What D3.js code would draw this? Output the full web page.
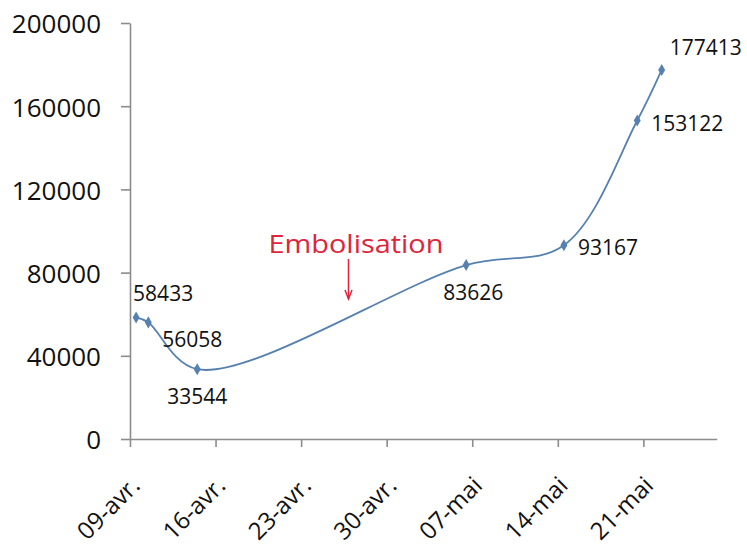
<!DOCTYPE html>
<html>
<head>
<meta charset="utf-8">
<script src="https://cdn.jsdelivr.net/npm/d3@7"></script>
<style>
  body { margin: 0; background: #fff; }
  svg { display: block; }
</style>
</head>
<body>
<svg id="chart" width="747" height="550"></svg>
<script>
// Measurement dates and values
const dates = ["2013-04-09", "2013-04-10", "2013-04-14", "2013-05-06", "2013-05-14", "2013-05-20", "2013-05-22"];
const values = [58433, 56058, 33544, 83626, 93167, 153122, 177413];

// Axis ticks
const tickDates = ["2013-04-09", "2013-04-16", "2013-04-23", "2013-04-30", "2013-05-07", "2013-05-14", "2013-05-21"];
const tickLabels = ["09-avr.", "16-avr.", "23-avr.", "30-avr.", "07-mai", "14-mai", "21-mai"];
const yTicks = [0, 40000, 80000, 120000, 160000, 200000];

// Annotation
const annotationText = "Embolisation";
const annotationDate = "2013-04-26T21:00";

// Layout
const xStart = "2013-04-09", xEnd = "2013-05-27";
const plot = { left: 130, right: 716.7, top: 23, bottom: 439 };
const labelOffsets = [[-3, -16], [14, 24.6], [-30, 35], [-23, 35], [14, 10], [14, 10.5], [8, -15]];
const FONT = "'Open Sans', 'Noto Sans', sans-serif";
const AXIS_COLOR = "#8c8c8c";
const LINE_COLOR = "#5580b0";
const TEXT_COLOR = "#111";
const RED = "#e0243a";

const parse = d3.utcParse("%Y-%m-%d");
const parseT = d3.utcParse("%Y-%m-%dT%H:%M");

const svg = d3.select("#chart");

const x = d3.scaleUtc()
  .domain([parse(xStart), parse(xEnd)])
  .range([plot.left, plot.right]);

const y = d3.scaleLinear()
  .domain([0, 200000])
  .range([plot.bottom, plot.top]);

// Each day occupies a slot; points sit in the middle of their day
const px = d => x(d3.utcHour.offset(parse(d), 12));

const data = dates.map((d, i) => ({ date: d, value: values[i], off: labelOffsets[i] }));

// Y axis
const yAxis = svg.append("g")
  .attr("transform", `translate(${plot.left},0)`)
  .call(d3.axisLeft(y).tickValues(yTicks).tickFormat(d3.format("d"))
    .tickSize(9).tickSizeOuter(0).tickPadding(20));
yAxis.select(".domain").attr("stroke", AXIS_COLOR).attr("stroke-width", 1.6);
yAxis.selectAll(".tick line").attr("stroke", AXIS_COLOR).attr("stroke-width", 1.6);
yAxis.selectAll(".tick text")
  .attr("font-family", FONT).attr("font-size", 26).attr("fill", TEXT_COLOR)
  .attr("dy", "0.38em");

// X axis
const xAxis = svg.append("g")
  .attr("transform", `translate(0,${plot.bottom})`)
  .call(d3.axisBottom(x).tickValues(tickDates.map(parse))
    .tickFormat((d, i) => tickLabels[i])
    .tickSize(8).tickSizeOuter(0));
xAxis.select(".domain").attr("stroke", AXIS_COLOR).attr("stroke-width", 1.6);
xAxis.selectAll(".tick line").attr("stroke", AXIS_COLOR).attr("stroke-width", 1.6);
xAxis.selectAll(".tick text")
  .attr("font-family", FONT).attr("font-size", 24).attr("fill", TEXT_COLOR)
  .attr("text-anchor", "end")
  .attr("x", 0).attr("y", 0).attr("dy", 0)
  .attr("transform", "translate(11,48) rotate(-45)");

// Smoothed series line
const line = d3.line()
  .x(d => px(d.date))
  .y(d => y(d.value))
  .curve(d3.curveCatmullRom.alpha(0.5));

svg.append("path")
  .datum(data)
  .attr("fill", "none")
  .attr("stroke", LINE_COLOR)
  .attr("stroke-width", 1.8)
  .attr("d", line);

// Diamond markers
svg.append("g").selectAll("path")
  .data(data)
  .join("path")
  .attr("transform", d => `translate(${px(d.date)},${y(d.value)})`)
  .attr("d", d3.symbol(d3.symbolDiamond, 42))
  .attr("fill", LINE_COLOR);

// Value labels
svg.append("g").selectAll("text")
  .data(data)
  .join("text")
  .attr("x", d => px(d.date) + d.off[0])
  .attr("y", d => y(d.value) + d.off[1])
  .attr("font-family", FONT)
  .attr("font-size", 21)
  .attr("fill", TEXT_COLOR)
  .text(d => d.value);

// Embolisation annotation with arrow
const ax = x(parseT(annotationDate));
const arrowTop = 259, arrowBottom = 299;
const ann = svg.append("g");
ann.append("text")
  .attr("x", ax + 7.5)
  .attr("y", 253)
  .attr("text-anchor", "middle")
  .attr("font-family", FONT)
  .attr("font-size", 25.5)
  .attr("textLength", 175)
  .attr("lengthAdjust", "spacingAndGlyphs")
  .attr("fill", RED)
  .text(annotationText);
ann.append("line")
  .attr("x1", ax).attr("x2", ax)
  .attr("y1", arrowTop).attr("y2", arrowBottom)
  .attr("stroke", RED).attr("stroke-width", 1.5);
ann.append("path")
  .attr("d", `M${ax - 3.5},${arrowBottom - 9}L${ax},${arrowBottom}L${ax + 3.5},${arrowBottom - 9}`)
  .attr("fill", "none")
  .attr("stroke", RED)
  .attr("stroke-width", 1.5);
</script>
</body>
</html>
